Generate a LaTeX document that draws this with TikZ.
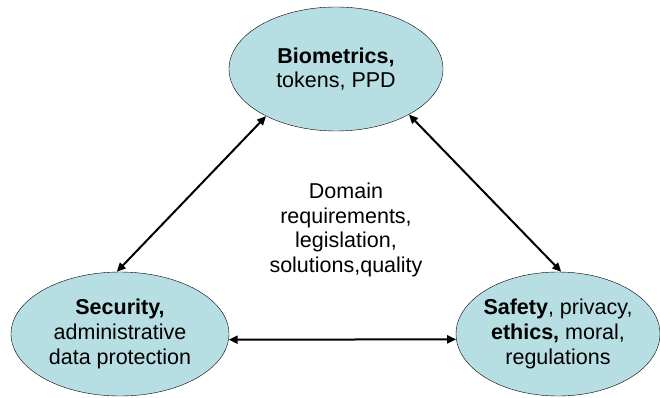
\documentclass[tikz,border=0pt]{standalone}
\usepackage{fontspec}
\setmainfont{Liberation Sans}
\usetikzlibrary{arrows.meta,shapes.geometric}
\definecolor{ovalfill}{RGB}{183,222,227}

\begin{document}
\begin{tikzpicture}[x=1pt, y=1pt,
    txt/.style={align=center, font=\fontsize{21.5}{24.7}\selectfont},
    oval/.style={txt, ellipse, draw=black, thin, fill=ovalfill,
        inner xsep=-20pt, inner ysep=0pt, minimum height=124pt},
    link/.style={{Triangle[length=9pt,width=8pt]}-{Triangle[length=9pt,width=8pt]}, line width=2pt}]
    \useasboundingbox (0,0) rectangle (660,-398);
    \node[oval, minimum width=214pt] (bio) at (336,-69) {\textbf{Biometrics,}\\tokens, PPD};
    \node[oval, minimum width=218pt] (sec) at (120,-334) {\textbf{Security,}\\administrative\\data protection};
    \node[oval, minimum width=204pt] (safe) at (558,-334) {\textbf{Safety}, privacy,\\\textbf{ethics,} moral,\\regulations};
    \node[txt] (domain) at (346,-230) {Domain\\requirements,\\legislation,\\solutions,quality};
    \draw[link] (bio.214) -- (sec.93);
    \draw[link] (bio.-32) -- (safe.87);
    \draw[link] (sec.-3) -- (safe.183);
\end{tikzpicture}
\end{document}
